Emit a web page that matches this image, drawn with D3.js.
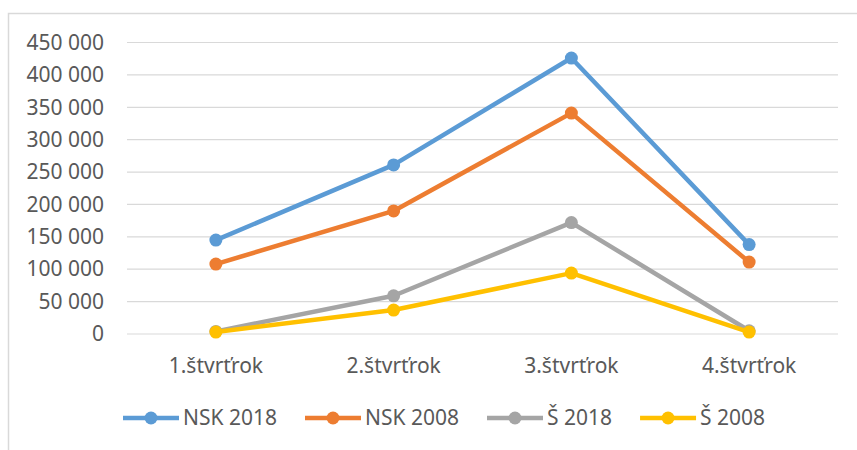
<!DOCTYPE html>
<html>
<head>
<meta charset="utf-8">
<script src="https://cdn.jsdelivr.net/npm/d3@7"></script>
<style>
  body { margin: 0; background: #fff; overflow: hidden; }
  text { font-family: "Noto Sans", sans-serif; fill: #595959; }
</style>
</head>
<body>
<div id="chart"></div>
<script>
// data
const quarters = ["1.štvrťrok", "2.štvrťrok", "3.štvrťrok", "4.štvrťrok"];
const seriesNames = ["NSK 2018", "NSK 2008", "Š 2018", "Š 2008"];
const nsk2018 = [145000, 261000, 426000, 138000];
const nsk2008 = [108000, 190000, 341000, 111000];
const s2018 = [4000, 59000, 172000, 5000];
const s2008 = [3000, 37000, 94000, 3000];
const yTicks = [0, 50000, 100000, 150000, 200000, 250000, 300000, 350000, 400000, 450000];
const colors = ["#5B9BD5", "#ED7D31", "#A5A5A5", "#FFC000"];

const allSeries = [nsk2018, nsk2008, s2018, s2008].map((v, i) => ({
  name: seriesNames[i], values: v, color: colors[i]
}));

const width = 857, height = 450;
const plot = { left: 127, right: 838, top: 42.5, bottom: 334 };
const fontSize = "21px";

const svg = d3.select("#chart").append("svg")
  .attr("width", width)
  .attr("height", height)
  .style("display", "block");

// chart frame (only top and left edges are in view)
svg.append("rect")
  .attr("x", 8.5).attr("y", 13.5)
  .attr("width", 900).attr("height", 500)
  .attr("fill", "none")
  .attr("stroke", "#d9d9d9")
  .attr("stroke-width", 1.5);

const x = d3.scaleBand().domain(quarters).range([plot.left, plot.right]);
const y = d3.scaleLinear().domain([0, 450000]).range([plot.bottom, plot.top]);

const fmt = d3.formatLocale({ decimal: ",", thousands: " ", grouping: [3], currency: ["", ""] }).format(",d");

// gridlines
svg.append("g").attr("class", "grid")
  .selectAll("line")
  .data(yTicks)
  .enter().append("line")
  .attr("x1", plot.left).attr("x2", plot.right)
  .attr("y1", d => y(d)).attr("y2", d => y(d))
  .attr("stroke", "#d9d9d9")
  .attr("stroke-width", 1.2);

// y axis
const yAxis = d3.axisLeft(y).tickValues(yTicks).tickFormat(fmt).tickSize(0).tickPadding(0);
const gy = svg.append("g")
  .attr("transform", "translate(104,0)")
  .call(yAxis);
gy.select(".domain").remove();
gy.selectAll("text")
  .attr("font-size", fontSize)
  .attr("fill", "#595959")
  .attr("font-family", "'Noto Sans', sans-serif");

// x axis
const xAxis = d3.axisBottom(x).tickSize(0).tickPadding(0);
const gx = svg.append("g")
  .attr("transform", "translate(0,358)")
  .call(xAxis);
gx.select(".domain").remove();
gx.selectAll("text")
  .attr("font-size", fontSize)
  .attr("fill", "#595959")
  .attr("font-family", "'Noto Sans', sans-serif");

// lines
const line = d3.line()
  .x((d, i) => x(quarters[i]) + x.bandwidth() / 2)
  .y(d => y(d));

const lineGroups = svg.append("g").attr("class", "series")
  .selectAll("g")
  .data(allSeries)
  .enter().append("g");

lineGroups.append("path")
  .attr("d", d => line(d.values))
  .attr("fill", "none")
  .attr("stroke", d => d.color)
  .attr("stroke-width", 4.5)
  .attr("stroke-linejoin", "round");

lineGroups.selectAll("circle")
  .data(d => d.values.map(v => ({ v: v, color: d.color })))
  .enter().append("circle")
  .attr("cx", (d, i) => x(quarters[i]) + x.bandwidth() / 2)
  .attr("cy", d => y(d.v))
  .attr("r", 6.5)
  .attr("fill", d => d.color);

// legend
const legend = svg.append("g").attr("class", "legend")
  .attr("transform", "translate(0,418)");

let lx = 123;
allSeries.forEach(s => {
  const item = legend.append("g").attr("transform", "translate(" + lx + ",0)");
  item.append("line")
    .attr("x1", 0).attr("x2", 56)
    .attr("stroke", s.color)
    .attr("stroke-width", 4.5);
  item.append("circle")
    .attr("cx", 28).attr("r", 6.5)
    .attr("fill", s.color);
  const t = item.append("text")
    .attr("x", 60)
    .attr("dy", "0.35em")
    .attr("font-size", fontSize)
    .text(s.name);
  lx += 60 + t.node().getComputedTextLength() + 28;
});
</script>
</body>
</html>
